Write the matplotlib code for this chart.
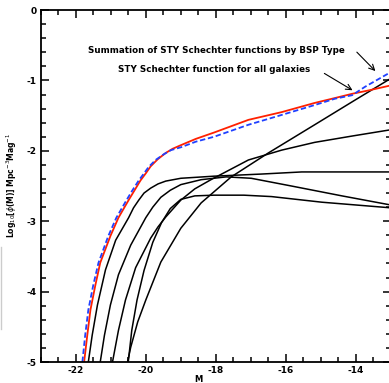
import numpy as np
import matplotlib.pyplot as plt
from matplotlib.lines import Line2D

# Absolute magnitude M and log10 phi(M)

# STY Schechter function for all galaxies (red)
m_all = [-21.76, -21.67, -21.58, -21.44, -21.30, -21.01, -20.78, -20.49, -20.32,
         -20.15, -20.00, -19.86, -19.66, -19.43, -19.23, -19.00, -18.57, -18.05,
         -17.07, -16.12, -15.18, -14.60, -14.11, -13.62, -13.00]
lf_all = [-5.00, -4.62, -4.26, -3.91, -3.59, -3.21, -2.95, -2.70, -2.56,
          -2.42, -2.32, -2.22, -2.12, -2.03, -1.97, -1.92, -1.83, -1.74,
          -1.56, -1.45, -1.32, -1.25, -1.19, -1.14, -1.07]

# summation of the per-type functions (blue dashed)
m_sum = [-21.81, -21.73, -21.64, -21.50, -21.35, -21.07, -20.84, -20.55, -20.38,
         -20.20, -20.05, -19.92, -19.72, -19.49, -19.28, -19.00, -18.57, -18.05,
         -17.07, -16.12, -15.18, -14.60, -14.11, -13.74, -13.00]
lf_sum = [-5.00, -4.62, -4.26, -3.91, -3.59, -3.21, -2.95, -2.70, -2.56,
          -2.42, -2.32, -2.23, -2.13, -2.05, -1.99, -1.95, -1.87, -1.80,
          -1.63, -1.49, -1.35, -1.26, -1.21, -1.09, -0.88]

# per type Schechter functions (black)
m_t1 = [-21.64, -21.53, -21.38, -21.15, -20.86, -20.49, -20.35, -20.20, -20.05,
        -19.86, -19.65, -19.43, -19.00, -18.05, -16.70, -15.55, -13.00]
lf_t1 = [-5.00, -4.62, -4.19, -3.69, -3.27, -2.95, -2.81, -2.70, -2.60,
         -2.53, -2.47, -2.43, -2.39, -2.36, -2.33, -2.30, -2.30]

m_t2 = [-21.30, -21.18, -21.01, -20.78, -20.43, -20.00, -19.80, -19.57, -19.30,
        -19.00, -18.42, -17.70, -16.99, -15.84, -14.40, -13.00]
lf_t2 = [-5.00, -4.62, -4.19, -3.76, -3.34, -2.95, -2.80, -2.66, -2.56,
         -2.48, -2.41, -2.37, -2.39, -2.50, -2.64, -2.77]

m_t3 = [-20.95, -20.78, -20.58, -20.29, -19.86, -19.65, -19.43, -19.00, -18.60,
        -18.14, -17.07, -16.12, -15.18, -14.11, -13.00]
lf_t3 = [-5.00, -4.55, -4.12, -3.66, -3.24, -3.08, -2.94, -2.70, -2.54,
         -2.41, -2.13, -1.99, -1.88, -1.79, -1.70]

m_t4 = [-20.50, -20.40, -20.25, -20.05, -19.80, -19.55, -19.30, -19.00, -18.60,
        -18.05, -17.20, -16.41, -14.97, -13.00]
lf_t4 = [-5.00, -4.55, -4.12, -3.70, -3.30, -3.02, -2.82, -2.69, -2.64,
         -2.63, -2.63, -2.65, -2.73, -2.81]

m_t5 = [-20.52, -20.43, -20.23, -20.00, -19.57, -19.00, -18.42, -17.56, -16.50,
        -15.18, -14.03, -13.00]
lf_t5 = [-5.00, -4.79, -4.43, -4.12, -3.58, -3.10, -2.74, -2.37, -2.03,
         -1.63, -1.28, -0.97]

types_m = [m_t1, m_t2, m_t3, m_t4, m_t5]
types_lf = [lf_t1, lf_t2, lf_t3, lf_t4, lf_t5]

x_ticks = [-22, -20, -18, -16, -14]
y_ticks = [0, -1, -2, -3, -4, -5]

label_sum = 'Summation of STY Schechter functions by BSP Type'
label_all = 'STY Schechter function for all galaxies'

# ---------------------------------------------------------------

fig = plt.figure(figsize=(3.89, 3.83), dpi=100)
ax = fig.add_axes([0.1046, 0.0548, 0.9005, 0.919])

font = dict(family='DejaVu Sans', weight='bold')

for mm, ll in zip(types_m, types_lf):
    ax.plot(mm, ll, color='black', lw=1.1)
ax.plot(m_all, lf_all, color='#ff2000', lw=1.3)
ax.plot(m_sum, lf_sum, color='#2040ff', lw=1.3, ls=(0, (3, 1.5)))

ax.set_xlim(-23, -13)
ax.set_ylim(-5, 0)

ax.set_xticks(x_ticks)
ax.set_xticklabels([str(t) for t in x_ticks], fontsize=6.5, **font)
ax.set_xticks(np.arange(-23, -12.9, 0.5), minor=True)
ax.set_yticks(y_ticks)
ax.set_yticklabels([str(t) for t in y_ticks], fontsize=6.5, **font)
ax.set_yticks(np.arange(-5, 0.01, 0.2), minor=True)

ax.tick_params(which='both', direction='in', top=True, right=True, width=1.1,
               color='black', pad=3)
ax.tick_params(which='major', length=6)
ax.tick_params(which='minor', length=3.5)
for sp in ax.spines.values():
    sp.set_linewidth(1.3)

fig.text(0.031, 0.517, r'Log$_{10}$[$\phi$(M)] Mpc$^{-3}$Mag$^{-1}$',
         rotation=90, ha='center', va='center', fontsize=5.5, **font)
fig.text(0.509, 0.008, 'M', ha='center', va='center', fontsize=6, **font)

# labels with arrows pointing to the curves
ax.text(-21.64, -0.57, label_sum, ha='left', va='center', fontsize=6.3, **font)
ax.text(-20.78, -0.85, label_all, ha='left', va='center', fontsize=6.3, **font)
ax.annotate('', xy=(-13.39, -0.895), xytext=(-14.03, -0.57),
            arrowprops=dict(arrowstyle='->', lw=0.8, color='black'))
ax.annotate('', xy=(-14.03, -1.16), xytext=(-14.97, -0.88),
            arrowprops=dict(arrowstyle='->', lw=0.8, color='black'))

# faint grey edge at the far left of the scan
fig.add_artist(Line2D([0.003, 0.003], [0.14, 0.355], color='#cccccc', lw=1))

fig.savefig('out.png', dpi=100)
